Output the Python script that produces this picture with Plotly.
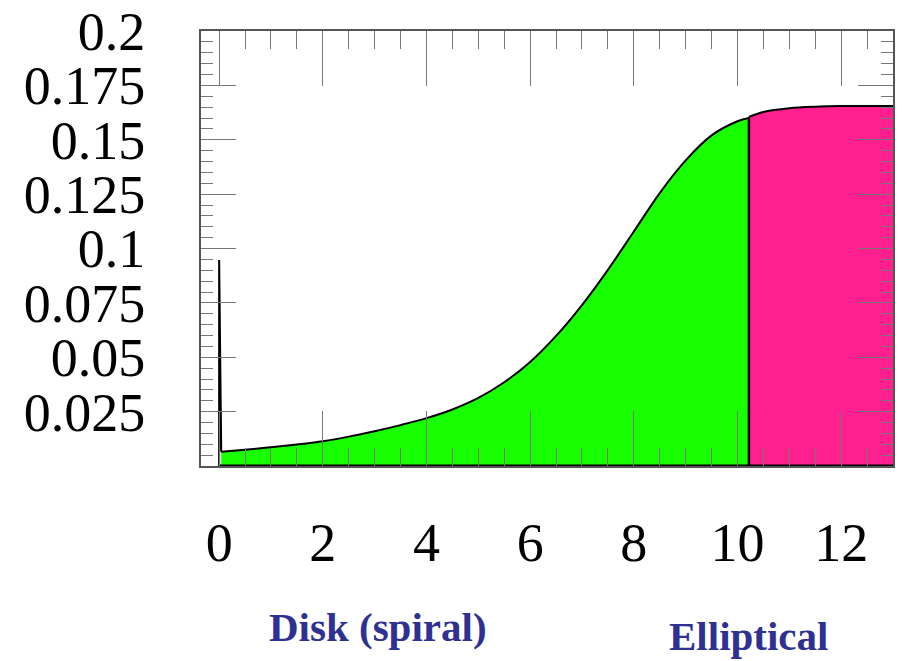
import plotly.graph_objects as go

# ---- data ----
spike_x = [0.0, 0.0, 0.04]
spike_y = [0.0, 0.0947, 0.0066]

disk_x = [0.04, 0.5, 1.0, 1.5, 2.0, 2.5, 3.0, 3.5, 4.0, 4.5, 5.0, 5.5, 6.0, 6.5, 7.0,
          7.5, 8.0, 8.5, 9.0, 9.5, 10.0, 10.22]
disk_y = [0.0066, 0.0075, 0.0086, 0.0099, 0.0114, 0.0135, 0.0160, 0.0188, 0.0220,
          0.0260, 0.0313, 0.0385, 0.0478, 0.0598, 0.0740, 0.0902, 0.1078, 0.1255,
          0.1405, 0.1520, 0.1585, 0.1600]

ell_x = [10.22, 10.5, 11.0, 11.5, 12.0, 12.5, 13.0]
ell_y = [0.1605, 0.1628, 0.1645, 0.1652, 0.1655, 0.1655, 0.1655]

x_ticks = [0, 2, 4, 6, 8, 10, 12]
y_ticks = [0.025, 0.05, 0.075, 0.1, 0.125, 0.15, 0.175, 0.2]
y_ticklabels = ["0.025", "0.05", "0.075", "0.1", "0.125", "0.15", "0.175", "0.2"]

labels = ["Disk (spiral)", "Elliptical"]
label_x = [3.07, 10.21]
label_y = [-0.37, -0.39]

GREEN = "#17ff00"
PINK = "#ff1f8e"

fig = go.Figure()

fig.add_trace(go.Scatter(x=disk_x, y=disk_y, mode="lines", fill="tozeroy",
                         fillcolor=GREEN, line=dict(color="black", width=2, shape="spline", smoothing=1.0),
                         hoverinfo="skip"))
fig.add_trace(go.Scatter(x=ell_x, y=ell_y, mode="lines", fill="tozeroy",
                         fillcolor=PINK, line=dict(color="black", width=2, shape="spline", smoothing=1.0),
                         hoverinfo="skip"))
fig.add_trace(go.Scatter(x=spike_x, y=spike_y, mode="lines",
                         line=dict(color="black", width=2), hoverinfo="skip"))
# boundary between the two regions
fig.add_trace(go.Scatter(x=[ell_x[0], ell_x[0]], y=[0, ell_y[0]], mode="lines",
                         line=dict(color="black", width=2.5), hoverinfo="skip"))
# baseline
fig.add_trace(go.Scatter(x=[spike_x[0], ell_x[-1]], y=[0, 0], mode="lines",
                         line=dict(color="black", width=3), hoverinfo="skip"))

tick_font = dict(family="Liberation Serif", size=54, color="black")

fig.update_xaxes(range=[-0.35, 13.0], tickvals=x_ticks, ticktext=[str(v) for v in x_ticks],
                 tickfont=tick_font, ticks="inside", ticklen=55, tickwidth=1, tickcolor="#777",
                 minor=dict(dtick=0.5, ticks="inside", ticklen=18, tickwidth=1, tickcolor="#777"),
                 showline=True, linecolor="#555", linewidth=2, mirror="ticks",
                 showgrid=False, zeroline=False, ticklabelstandoff=28, automargin=False)
fig.update_yaxes(range=[0, 0.2], tickvals=y_ticks, ticktext=y_ticklabels,
                 tickfont=tick_font, ticks="inside", ticklen=35, tickwidth=1, tickcolor="#777",
                 minor=dict(dtick=0.005, ticks="inside", ticklen=12, tickwidth=1, tickcolor="#777"),
                 showline=True, linecolor="#555", linewidth=2, mirror="ticks",
                 showgrid=False, zeroline=False, ticklabelstandoff=43, automargin=False)

for t, xv, yv in zip(labels, label_x, label_y):
    fig.add_annotation(text=t, x=xv, y=yv, xref="x", yref="paper", showarrow=False,
                       xanchor="center", yanchor="middle",
                       font=dict(family="Liberation Serif", size=41, color="#2e3192", weight="bold"))

fig.update_layout(width=910, height=661, margin=dict(l=201, r=17, t=31, b=195),
                  paper_bgcolor="white", plot_bgcolor="white", showlegend=False)

fig.write_html("out.html")
